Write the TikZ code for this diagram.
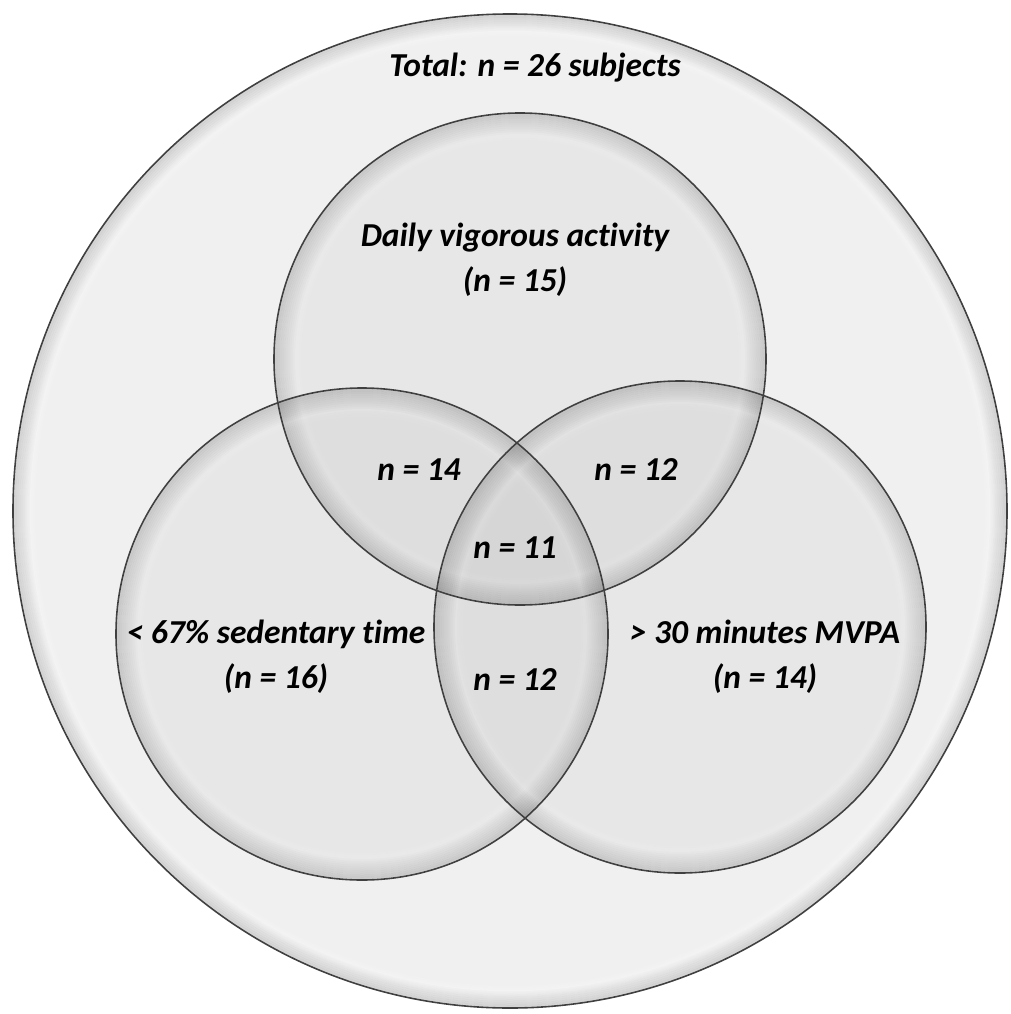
\documentclass[tikz,border=0pt]{standalone}
\usepackage{fontspec}
\setmainfont[Ligatures=NoCommon]{Carlito}
\begin{document}
\begin{tikzpicture}[x=1pt,y=-1pt,
  lbl/.style={font=\fontsize{33.5}{45}\selectfont\bfseries\itshape, align=center, inner sep=0pt},
  edge/.style={draw=black!75, line width=1.6pt}]
\useasboundingbox (0,0) rectangle (1010,1014);
\fill[white] (0,0) rectangle (1010,1014);
% centres
\coordinate (cB) at (510,511);
\coordinate (cT) at (520,359);
\coordinate (cL) at (362,634);
\coordinate (cR) at (680,627);
% big circle
\fill[black!6] (cB) circle[radius=497];
\begin{scope}
  \clip (cB) circle[radius=497];
  \foreach \i [evaluate=\i as \op using {0.014*(9-\i)}] in {1,...,8}
    \draw[black, draw opacity=\op, line width=2pt] (cB) circle[radius=497-2*\i];
  \foreach \i [evaluate=\i as \op using {0.25*(4-abs(\i-4))/4}] in {1,...,7}
    \draw[white, line width=2pt, draw opacity=\op] (cB) circle[radius=488-2*\i];
\end{scope}
% small circles
\foreach \c in {cT,cL,cR}{
  \fill[black, fill opacity=0.035] (\c) circle[radius=246];
  \begin{scope}
    \clip (\c) circle[radius=246];
    \foreach \i [evaluate=\i as \op using {0.012*(11-\i)}] in {1,...,10}
      \draw[black, draw opacity=\op, line width=2pt] (\c) circle[radius=246-2*\i];
    \foreach \i [evaluate=\i as \op using {0.12*(4-abs(\i-4))/4}] in {1,...,7}
      \draw[white, line width=2pt, draw opacity=\op] (\c) circle[radius=232-2*\i];
  \end{scope}
}
\draw[edge] (cB) circle[radius=497];
\foreach \c in {cT,cL,cR} \draw[edge] (\c) circle[radius=246];
% labels
\node[lbl] (total) at (535,68) {Total: n = 26 subjects};
\node[lbl] (daily) at (515,260) {Daily vigorous activity\\(n = 15)};
\node[lbl] (tl) at (419,470) {n = 14};
\node[lbl] (tr) at (636,470) {n = 12};
\node[lbl] (mid) at (515,548) {n = 11};
\node[lbl] (sed) at (276,657) {< 67\% sedentary time\\(n = 16)};
\node[lbl] (bot) at (515,680) {n = 12};
\node[lbl] (mvpa) at (765,657) {> 30 minutes MVPA\\(n = 14)};
\end{tikzpicture}
\end{document}
